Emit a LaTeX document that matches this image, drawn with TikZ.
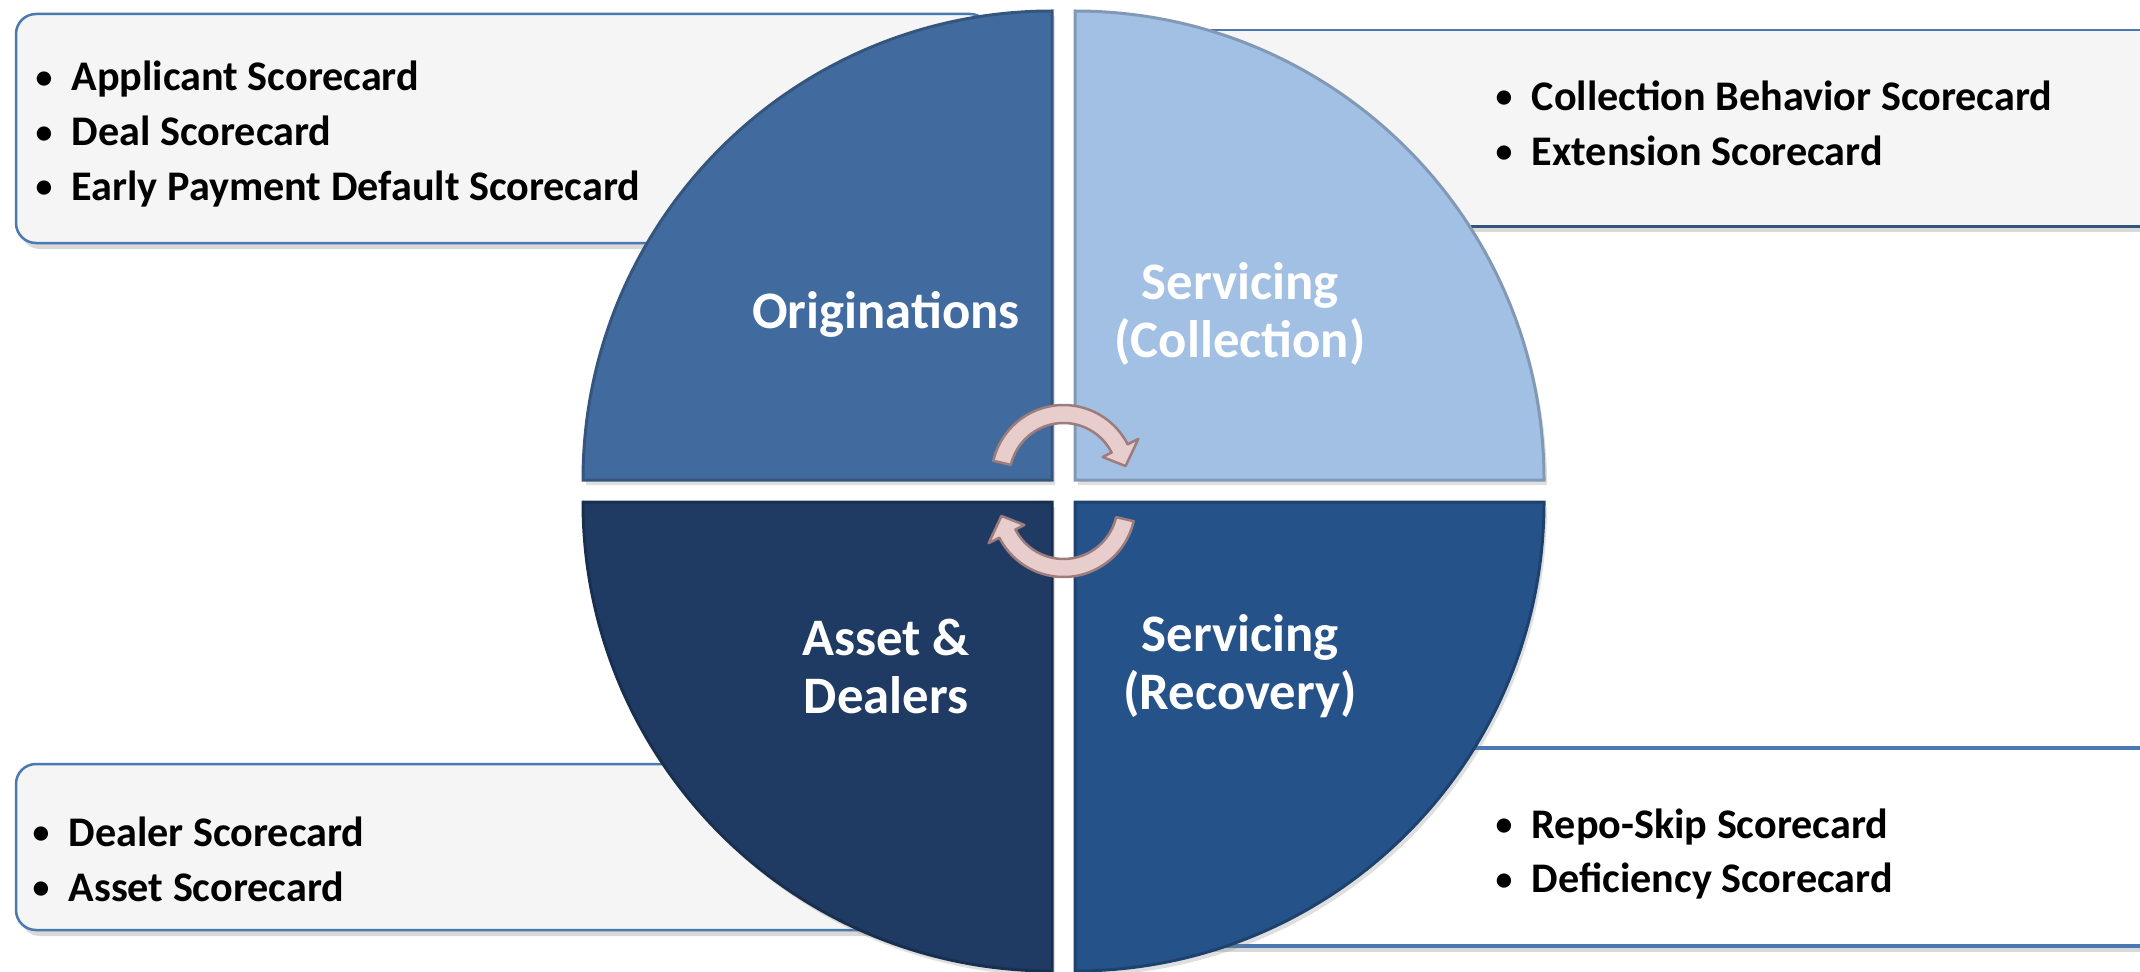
\documentclass[tikz,border=0pt]{standalone}
\usepackage{fontspec}
\setmainfont{Carlito}
\usetikzlibrary{shadows}
\definecolor{OrigBlue}{HTML}{416B9E}
\definecolor{CollBlue}{HTML}{A2BFE4}
\definecolor{AssetBlue}{HTML}{1F3B64}
\definecolor{RecovBlue}{HTML}{26528A}
\definecolor{EdgeBlue}{HTML}{4A78B0}
\definecolor{BoxGray}{HTML}{F5F5F5}
\definecolor{ArrowPink}{HTML}{E8CDCD}
\definecolor{ArrowEdge}{HTML}{9C7C7C}

\newcommand{\bul}[1]{\makebox[3.6mm][l]{\raisebox{0.12ex}{\scalebox{0.8}{\textbullet}}}#1}

\begin{document}
\begin{tikzpicture}[x=0.1mm, y=0.1mm,
  listbox/.style={draw=EdgeBlue, line width=0.25mm, fill=BoxGray, rounded corners=2mm,
    drop shadow={opacity=0.3, shadow xshift=0.4mm, shadow yshift=-0.6mm}},
  quad/.style={draw=#1!80!black, line width=0.3mm, fill=#1,
    drop shadow={opacity=0.25, shadow xshift=0.3mm, shadow yshift=-0.5mm}},
  listtext/.style={inner sep=0pt, align=left, anchor=west, font=\fontsize{12}{15.6}\selectfont\bfseries},
  quadtext/.style={inner sep=0pt, align=center, text=white, font=\fontsize{15}{16.5}\selectfont\bfseries},
  cyclearrow/.style={fill=ArrowPink, draw=ArrowEdge, line width=0.25mm, line join=round}]
  \useasboundingbox (0,0) rectangle (2140,971);

  % side boxes
  \path[listbox] (16,728) rectangle (990,957);
  \path[listbox] (16,41) rectangle (1000,207);
  \fill[BoxGray, drop shadow={opacity=0.3, shadow yshift=-0.6mm}] (1150,745) rectangle (2160,941);
  \draw[EdgeBlue, line width=0.2mm] (1150,941) -- (2160,941);
  \draw[EdgeBlue!70!black, line width=0.3mm] (1150,745) -- (2160,745);
  \fill[white, drop shadow={opacity=0.3, shadow yshift=-0.6mm}] (1120,25) rectangle (2160,223);
  \draw[EdgeBlue, line width=0.45mm] (1120,223) -- (2160,223) (1120,25) -- (2160,25);

  % quadrants
  \coordinate (hub) at (1063.5,480);
  \path[quad=OrigBlue] (1052,491) -- (583,491) arc[start angle=180, end angle=90, radius=469] -- cycle;
  \path[quad=CollBlue] (1075,491) -- (1075,960) arc[start angle=90, end angle=0, radius=469] -- cycle;
  \path[quad=RecovBlue] (1075,469) -- (1544,469) arc[start angle=0, end angle=-90, radius=469] -- cycle;
  \path[quad=AssetBlue] (1052,469) -- (1052,0) arc[start angle=270, end angle=180, radius=469] -- cycle;

  % cycle arrows
  \foreach \rot in {0,180}{
    \begin{scope}[shift={(hub)}, rotate=\rot, shift={(0,14)}]
      \path[cyclearrow] (167:72) arc[start angle=167, end angle=27, radius=72]
        -- (27:84) -- (10:63) -- (27:44) -- (27:54)
        arc[start angle=27, end angle=167, radius=54] -- cycle;
    \end{scope}
  }

  % quadrant labels
  \node[quadtext] (orig) at (886,657) {Originations};
  \node[quadtext] (coll) at (1240,657) {Servicing\\(Collection)};
  \node[quadtext] (asset) at (886,305) {Asset \&\\Dealers};
  \node[quadtext] (recov) at (1240,305) {Servicing\\(Recovery)};

  % scorecard lists
  \node[listtext] (origlist) at (35,837) {\bul{Applicant Scorecard}\\\bul{Deal Scorecard}\\\bul{Early Payment Default Scorecard}};
  \node[listtext] (colllist) at (1495,848) {\bul{Collection Behavior Scorecard}\\\bul{Extension Scorecard}};
  \node[listtext] (assetlist) at (32,112) {\bul{Dealer Scorecard}\\\bul{Asset Scorecard}};
  \node[listtext] (recovlist) at (1495,117) {\bul{Repo-Skip Scorecard}\\\bul{Deficiency Scorecard}};
\end{tikzpicture}
\end{document}
